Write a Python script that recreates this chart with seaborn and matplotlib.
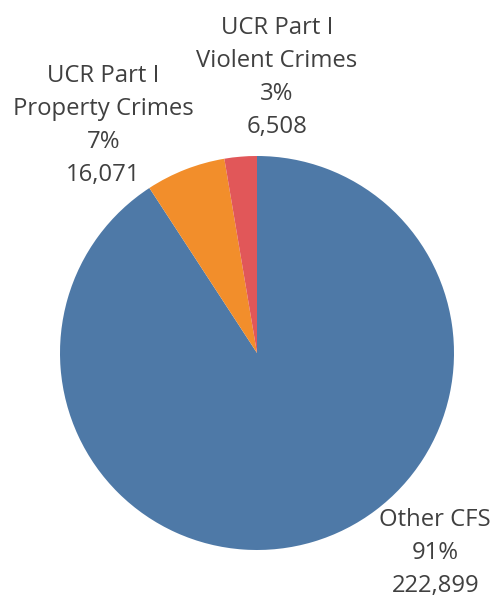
import matplotlib
matplotlib.use("Agg")
import matplotlib.pyplot as plt
import seaborn as sns

# Calls for service by category
categories = ["Other CFS", "UCR Part I\nProperty Crimes", "UCR Part I\nViolent Crimes"]
counts = [222899, 16071, 6508]
colors = ["#4e79a7", "#f28e2b", "#e15759"]

sns.set_theme(style="white")
plt.rcParams['font.family'] = ['Open Sans', 'DejaVu Sans']

fig = plt.figure(figsize=(4.96, 6.03), dpi=100)
# pie centre ~ (257, 353) px, radius ~197 px
ax = fig.add_axes([60 / 496, (603 - 550) / 603, 394 / 496, 394 / 603])
ax.pie(counts, colors=colors, startangle=90, counterclock=False, radius=1,
       wedgeprops={'linewidth': 0})
ax.set_xlim(-1, 1)
ax.set_ylim(-1, 1)
ax.set_aspect('equal')
ax.axis('off')

total = sum(counts)
# label anchor positions in data units (pie radius = 1)
label_pos = [(0.905, -1.015), (-0.78, 1.155), (0.10, 1.40)]
for cat, n, (x, y) in zip(categories, counts, label_pos):
    txt = f"{cat}\n{n / total:.0%}\n{n:,}"
    ax.text(x, y, txt, ha='center', va='center', fontsize=17.2, color='#404040',
            linespacing=1.5, clip_on=False)

fig.savefig("out.png", dpi=100)
